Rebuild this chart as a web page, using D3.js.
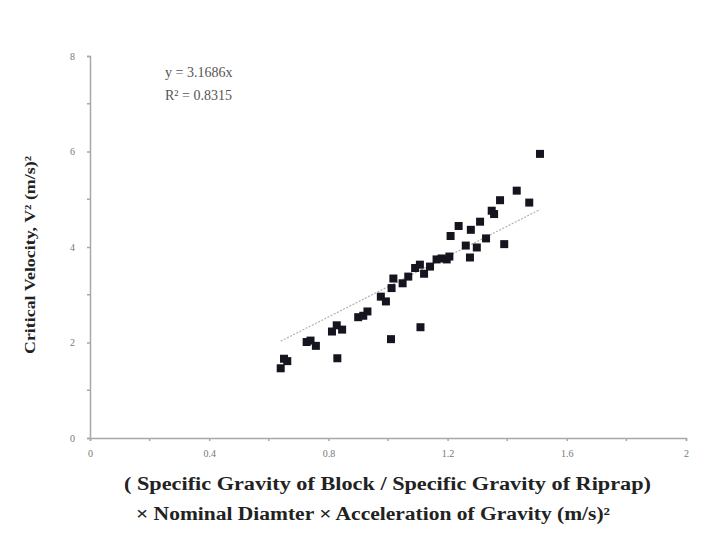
<!DOCTYPE html>
<html><head><meta charset="utf-8">
<script src="https://cdn.jsdelivr.net/npm/d3@7"></script>
<style>body{margin:0;background:#fff}svg{display:block}</style>
</head><body>
<svg id="c" width="718" height="535"></svg>
<script>
const xVals = [0.640,0.651,0.662,0.727,0.740,0.758,0.830,0.812,0.828,0.846,0.900,0.917,0.931,0.976,0.993,1.010,1.012,1.018,1.049,1.068,1.091,1.107,1.121,1.141,1.109,1.163,1.180,1.197,1.206,1.210,1.237,1.261,1.275,1.278,1.298,1.309,1.329,1.348,1.356,1.376,1.390,1.432,1.474,1.510];
const yVals = [1.46,1.66,1.61,2.01,2.04,1.93,1.67,2.23,2.36,2.27,2.53,2.56,2.65,2.96,2.86,2.07,3.14,3.34,3.24,3.38,3.56,3.63,3.44,3.59,2.32,3.74,3.76,3.74,3.80,4.23,4.44,4.03,3.78,4.36,3.99,4.53,4.18,4.76,4.69,4.98,4.06,5.18,4.93,5.95];
const trendSlope = 3.1686;
const trendX = [0.64, 1.51];
const xTicks = [0, 0.4, 0.8, 1.2, 1.6, 2];
const xMinor = [0.2, 0.6, 1.0, 1.4, 1.8];
const yTicks = [0, 2, 4, 6, 8];
const yMinor = [1, 3, 5, 7];
const eqLines = ["y = 3.1686x", "R² = 0.8315"];
const xTitle = ["( Specific Gravity of Block / Specific Gravity of Riprap)", "× Nominal Diamter × Acceleration of Gravity (m/s)²"];
const yTitle = "Critical Velocity, V² (m/s)²";

const svg = d3.select("#c");
const x = d3.scaleLinear().domain([0,2]).range([90,686]);
const y = d3.scaleLinear().domain([0,8]).range([438,56]);
const axisCol = "#a8a8a8";
const serif = "'Liberation Serif', 'DejaVu Serif', serif";

// axes
const xa = svg.append("g").attr("transform","translate(0,438)")
  .call(d3.axisBottom(x).tickValues(xTicks).tickSize(3).tickFormat(d=>d3.format("~g")(d)));
const ya = svg.append("g").attr("transform","translate(90,0)")
  .call(d3.axisLeft(y).tickValues(yTicks).tickSize(3));
[xa,ya].forEach(a=>{
  a.select(".domain").attr("stroke",axisCol).attr("stroke-width",1.5);
  a.selectAll(".tick line").attr("stroke",axisCol).attr("stroke-width",1.5);
  a.selectAll(".tick text").attr("fill","#777").attr("font-family",serif).attr("font-size",10);
});
xa.selectAll(".tick text").attr("dy","1.3em");
ya.selectAll(".tick text").attr("dx","-0.9em");
svg.append("g").selectAll("line").data(xMinor).join("line")
  .attr("x1",d=>x(d)).attr("x2",d=>x(d)).attr("y1",438).attr("y2",441)
  .attr("stroke",axisCol).attr("stroke-width",1.5);
svg.append("g").selectAll("line").data(yMinor).join("line")
  .attr("x1",87).attr("x2",90).attr("y1",d=>y(d)).attr("y2",d=>y(d))
  .attr("stroke",axisCol).attr("stroke-width",1.5);

// trend line
svg.append("line")
  .attr("x1",x(trendX[0])).attr("y1",y(trendSlope*trendX[0]))
  .attr("x2",x(trendX[1])).attr("y2",y(trendSlope*trendX[1]))
  .attr("stroke","#b0b0b0").attr("stroke-width",1.2).attr("stroke-dasharray","2,1.5");

// points
const pts = xVals.map((v,i)=>[v,yVals[i]]);
svg.append("g").selectAll("rect").data(pts).join("rect")
  .attr("x",d=>x(d[0])-4).attr("y",d=>y(d[1])-4).attr("width",8).attr("height",8)
  .attr("fill","#15151f");

// equation
svg.append("g").selectAll("text").data(eqLines).join("text")
  .attr("x",165).attr("y",(d,i)=>77+i*23).text(d=>d)
  .attr("font-family",serif).attr("font-size",14).attr("fill","#555");

// titles
const xtLen = [527, 474];
svg.append("g").selectAll("text").data(xTitle).join("text")
  .attr("x",(d,i)=>i===0?124:136).attr("y",(d,i)=>490+i*30).text(d=>d)
  .attr("textLength",(d,i)=>xtLen[i]).attr("lengthAdjust","spacingAndGlyphs")
  .attr("font-family",serif).attr("font-weight","bold").attr("font-size",18).attr("fill","#222");
svg.append("text").attr("transform","translate(35,255) rotate(-90)")
  .attr("x",-99).text(yTitle)
  .attr("textLength",198).attr("lengthAdjust","spacingAndGlyphs")
  .attr("font-family",serif).attr("font-weight","bold").attr("font-size",14).attr("fill","#222");
</script>
</body></html>
